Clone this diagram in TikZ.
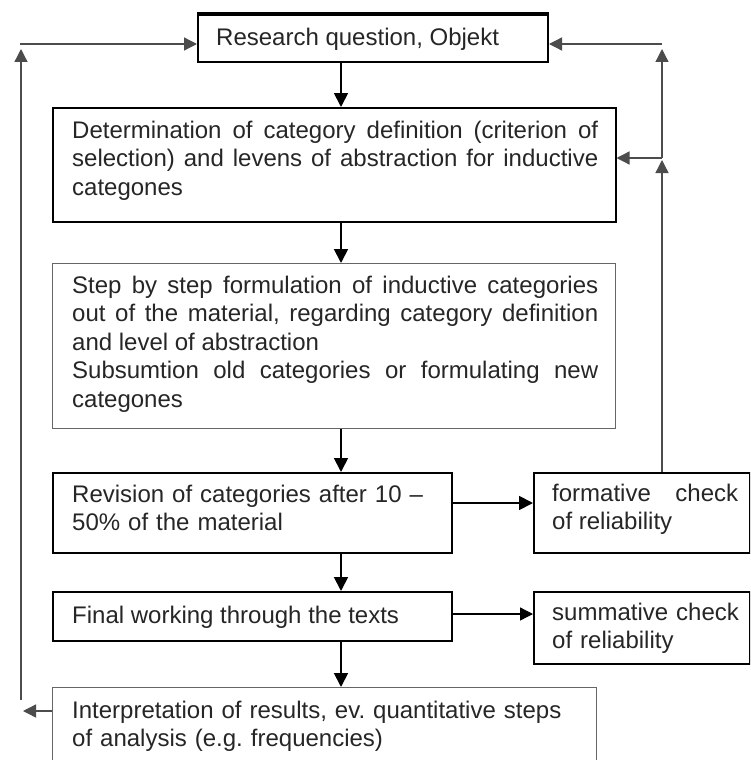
\documentclass[tikz,border=0pt]{standalone}
\usepackage{fontspec}
\setmainfont{Liberation Sans}
\usetikzlibrary{arrows.meta,calc}
\hyphenpenalty=10000
\exhyphenpenalty=10000
\frenchspacing
\begin{document}
\begin{tikzpicture}[x=1pt,y=-1pt,
  box/.style={draw=black,line width=1.5pt,inner sep=0pt,anchor=north west},
  lbox/.style={box,draw=black!60,line width=1.2pt},
  txt/.style={inner sep=0pt,anchor=base west,font=\fontsize{24}{28.5}\selectfont\frenchspacing,text=black!85},
  arr/.style={line width=1.8pt,-{Triangle[length=14pt,width=14pt]}},
  sarr/.style={line width=1.3pt,draw=black!70,-{Triangle[length=13pt,width=13pt]}}]
\useasboundingbox (0,0) rectangle (750,760);
\fill[white] (0,0) rectangle (750,760);
\clip (0,0) rectangle (750,760);

% boxes
\node[box,line width=2pt,minimum width=350pt,minimum height=47pt] (b1) at (197,14) {};
\draw[line width=4pt] (b1.north west) -- (b1.north east);
\node[box,minimum width=563pt,minimum height=114pt] (b2) at (52,107) {};
\node[lbox,minimum width=563pt,minimum height=165pt] (b3) at (52,263) {};
\node[box,minimum width=399pt,minimum height=80pt] (b4) at (52,472) {};
\node[box,minimum width=399pt,minimum height=49pt] (b5) at (52,591) {};
\node[lbox,minimum width=544pt,minimum height=100pt] (b6) at (52,687) {};
\node[box,minimum width=216pt,minimum height=80pt] (form) at (533,472) {};
\node[box,minimum width=216pt,minimum height=72pt] (summ) at (533,591) {};

% texts
\node[txt] (t1) at (216,46) {Research question, Objekt};
\node[txt,text width=526pt,align=justify] (t2) at (72,138) {Determination of category definition (criterion of\linebreak selection) and levens of abstraction for inductive\linebreak categones};
\node[txt,text width=526pt,align=justify] (t3) at (72,293) {Step by step formulation of inductive categories\linebreak out of the material, regarding category definition\linebreak and level of abstraction\\Subsumtion old categories or formulating new\linebreak categones};
\node[txt,text width=370pt,align=left] (t4) at (72,502) {Revision of categories after 10 –\\50\% of the material};
\node[txt] (t5) at (72,623) {Final working through the texts};
\node[txt,text width=520pt,align=left] (t6) at (72,718) {Interpretation of results, ev. quantitative steps\\of analysis (e.g. frequencies)};
\node[txt,text width=186pt,align=justify] (tf) at (552,501) {formative check\linebreak of reliability};
\node[txt,text width=195pt,align=left] (ts) at (552,620) {summative check\\of reliability};

% main flow
\coordinate (xc) at (341,0);
\draw[arr] (b1.south -| xc) -- (b2.north -| xc);
\draw[arr] (b2.south -| xc) -- (b3.north -| xc);
\draw[arr] (b3.south -| xc) -- (b4.north -| xc);
\draw[arr] (b4.south -| xc) -- (b5.north -| xc);
\draw[arr] (b5.south -| xc) -- (b6.north -| xc);

% side checks
\coordinate (y4) at (0,503);
\draw[arr] (b4.east |- y4) -- (form.west |- y4);
\coordinate (y5) at (0,614);
\draw[sarr,draw=black] (b5.east |- y5) -- (summ.west |- y5);

% left feedback loop
\coordinate (L1) at (23,711);
\coordinate (Lb) at (21,700);
\coordinate (Lt) at (21,49);
\coordinate (Lh) at (20,44);
\draw[sarr] (b6.west |- L1) -- (L1);
\draw[sarr] (Lb) -- (Lt);
\draw[sarr] (Lh) -- (b1.west |- Lh);

% right feedback loop
\coordinate (R1) at (662,158);
\coordinate (R1t) at (662,160);
\coordinate (R2) at (662,44);
\coordinate (R2t) at (662,49);
\draw[sarr] (form.north -| R1) -- (R1t);
\draw[sarr] (R1) -- (b2.east |- R1);
\draw[sarr] (R1) -- (R2t);
\draw[sarr] (R2) -- (b1.east |- R2);
\end{tikzpicture}
\end{document}
